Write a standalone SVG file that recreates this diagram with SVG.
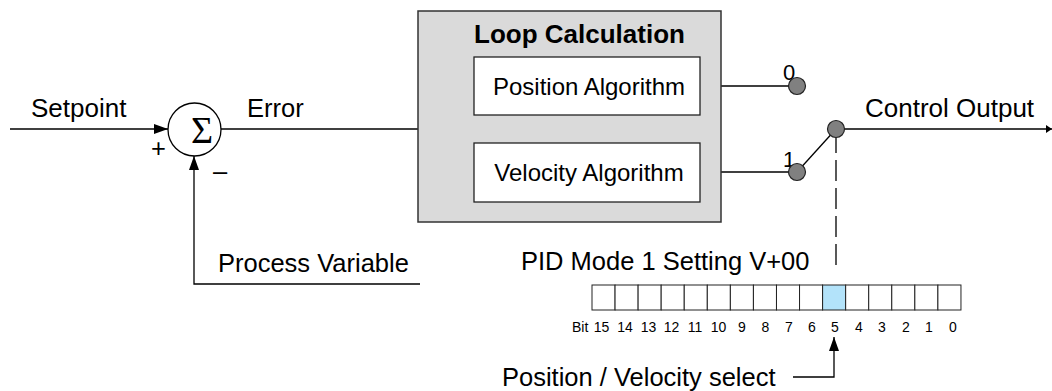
<svg xmlns="http://www.w3.org/2000/svg" width="1052" height="391" viewBox="0 0 1052 391">
<defs>
<style>
text{font-family:"Liberation Sans",Arial,sans-serif;fill:#000}
.lbl{font-size:25.5px}
.box{font-size:24px}
.bits{font-size:14px}
.ln{stroke:#000;stroke-width:1.3;fill:none}
.dash{stroke:#000;stroke-width:1.3;fill:none;stroke-dasharray:21 7}
.node{fill:#808080;stroke:#222;stroke-width:1.2}
.cell{fill:#fff;stroke:#222;stroke-width:1}
</style>
<marker id="arr" viewBox="0 0 14 10" refX="14" refY="5" markerWidth="14" markerHeight="10" markerUnits="userSpaceOnUse" orient="auto">
<path d="M0,0 L14,5 L0,10 Z" fill="#000"/>
</marker>
<marker id="arrs" viewBox="0 0 6 8" refX="6" refY="4" markerWidth="6" markerHeight="8" markerUnits="userSpaceOnUse" orient="auto">
<path d="M0,0 L6,4 L0,8 Z" fill="#000"/>
</marker>
</defs>
<rect width="1052" height="391" fill="#fff"/>

<g id="connectors">
<line class="ln" x1="10" y1="129" x2="168" y2="129" marker-end="url(#arr)"/>
<polyline class="ln" points="420,284 194,284 194,156" marker-end="url(#arr)"/>
<line class="ln" x1="221" y1="129" x2="452" y2="129"/>
<polyline class="ln" points="474,86 452,86 452,172 474,172"/>
<line class="ln" x1="700" y1="86" x2="797" y2="86"/>
<line class="ln" x1="700" y1="172" x2="797" y2="172"/>
<line class="ln" x1="797" y1="172" x2="836" y2="129"/>
<line class="ln" x1="836" y1="129" x2="1052" y2="129" marker-end="url(#arrs)"/>
<line class="dash" x1="836" y1="132" x2="836" y2="265"/>
<polyline class="ln" points="793,377 834,377 834,337" marker-end="url(#arr)"/>
</g>

<g id="labels">
<text class="lbl" x="31" y="117" style="font-size:26px">Setpoint</text>
<text class="lbl" x="247" y="117">Error</text>
<text class="lbl" x="218" y="272">Process Variable</text>
<text class="lbl" x="865" y="117" style="font-size:26px">Control Output</text>
<text class="lbl" x="521" y="270">PID Mode 1 Setting V+00</text>
<text class="lbl" x="502" y="386">Position / Velocity select</text>
<text class="lbl" x="151" y="157">+</text>
<text class="lbl" x="213" y="180">–</text>
</g>

<g id="sum">
<circle cx="194.5" cy="129.5" r="26.5" fill="#fff" stroke="#000" stroke-width="1.3"/>
<text x="202" y="143" text-anchor="middle" style="font-family:'Liberation Serif','Times New Roman',serif;font-size:38px">Σ</text>
</g>

<g id="loop-calculation">
<rect x="418" y="11" width="303" height="211" fill="#dadada" stroke="#333" stroke-width="1.5"/>
<text x="579.5" y="43" text-anchor="middle" style="font-size:26px;font-weight:bold">Loop Calculation</text>
</g>

<g id="position-algorithm">
<rect x="474" y="57" width="226" height="58" fill="#fff" stroke="#222" stroke-width="1.3"/>
<text class="box" x="589" y="95" text-anchor="middle">Position Algorithm</text>
</g>

<g id="velocity-algorithm">
<rect x="474" y="143" width="226" height="59" fill="#fff" stroke="#222" stroke-width="1.3"/>
<text class="box" x="589" y="181" text-anchor="middle">Velocity Algorithm</text>
</g>

<g id="switch">
<text x="783" y="80" style="font-size:22px">0</text>
<text x="783" y="167" style="font-size:22px">1</text>
<circle class="node" cx="797" cy="86" r="8.5"/>
<circle class="node" cx="797" cy="172" r="8.5"/>
<circle class="node" cx="836" cy="129" r="8.5"/>
</g>

<g id="bit-register">
<rect class="cell" x="592" y="285" width="23.06" height="25"/>
<rect class="cell" x="615.06" y="285" width="23.06" height="25"/>
<rect class="cell" x="638.12" y="285" width="23.06" height="25"/>
<rect class="cell" x="661.18" y="285" width="23.06" height="25"/>
<rect class="cell" x="684.24" y="285" width="23.06" height="25"/>
<rect class="cell" x="707.3" y="285" width="23.06" height="25"/>
<rect class="cell" x="730.36" y="285" width="23.06" height="25"/>
<rect class="cell" x="753.42" y="285" width="23.06" height="25"/>
<rect class="cell" x="776.48" y="285" width="23.06" height="25"/>
<rect class="cell" x="799.54" y="285" width="23.06" height="25"/>
<rect class="cell" x="822.6" y="285" width="23.06" height="25" style="fill:#b3e3fa"/>
<rect class="cell" x="845.66" y="285" width="23.06" height="25"/>
<rect class="cell" x="868.72" y="285" width="23.06" height="25"/>
<rect class="cell" x="891.78" y="285" width="23.06" height="25"/>
<rect class="cell" x="914.84" y="285" width="23.06" height="25"/>
<rect class="cell" x="937.9" y="285" width="23.06" height="25"/>
<text class="bits" x="572" y="332">Bit</text>
<g text-anchor="middle">
<text class="bits" x="601.5" y="332">15</text>
<text class="bits" x="625" y="332">14</text>
<text class="bits" x="648.5" y="332">13</text>
<text class="bits" x="671.5" y="332">12</text>
<text class="bits" x="695" y="332">11</text>
<text class="bits" x="718.5" y="332">10</text>
<text class="bits" x="742" y="332">9</text>
<text class="bits" x="765.5" y="332">8</text>
<text class="bits" x="789" y="332">7</text>
<text class="bits" x="812" y="332">6</text>
<text class="bits" x="835" y="332">5</text>
<text class="bits" x="859" y="332">4</text>
<text class="bits" x="882" y="332">3</text>
<text class="bits" x="906" y="332">2</text>
<text class="bits" x="929" y="332">1</text>
<text class="bits" x="953" y="332">0</text>
</g>
</g>
</svg>
